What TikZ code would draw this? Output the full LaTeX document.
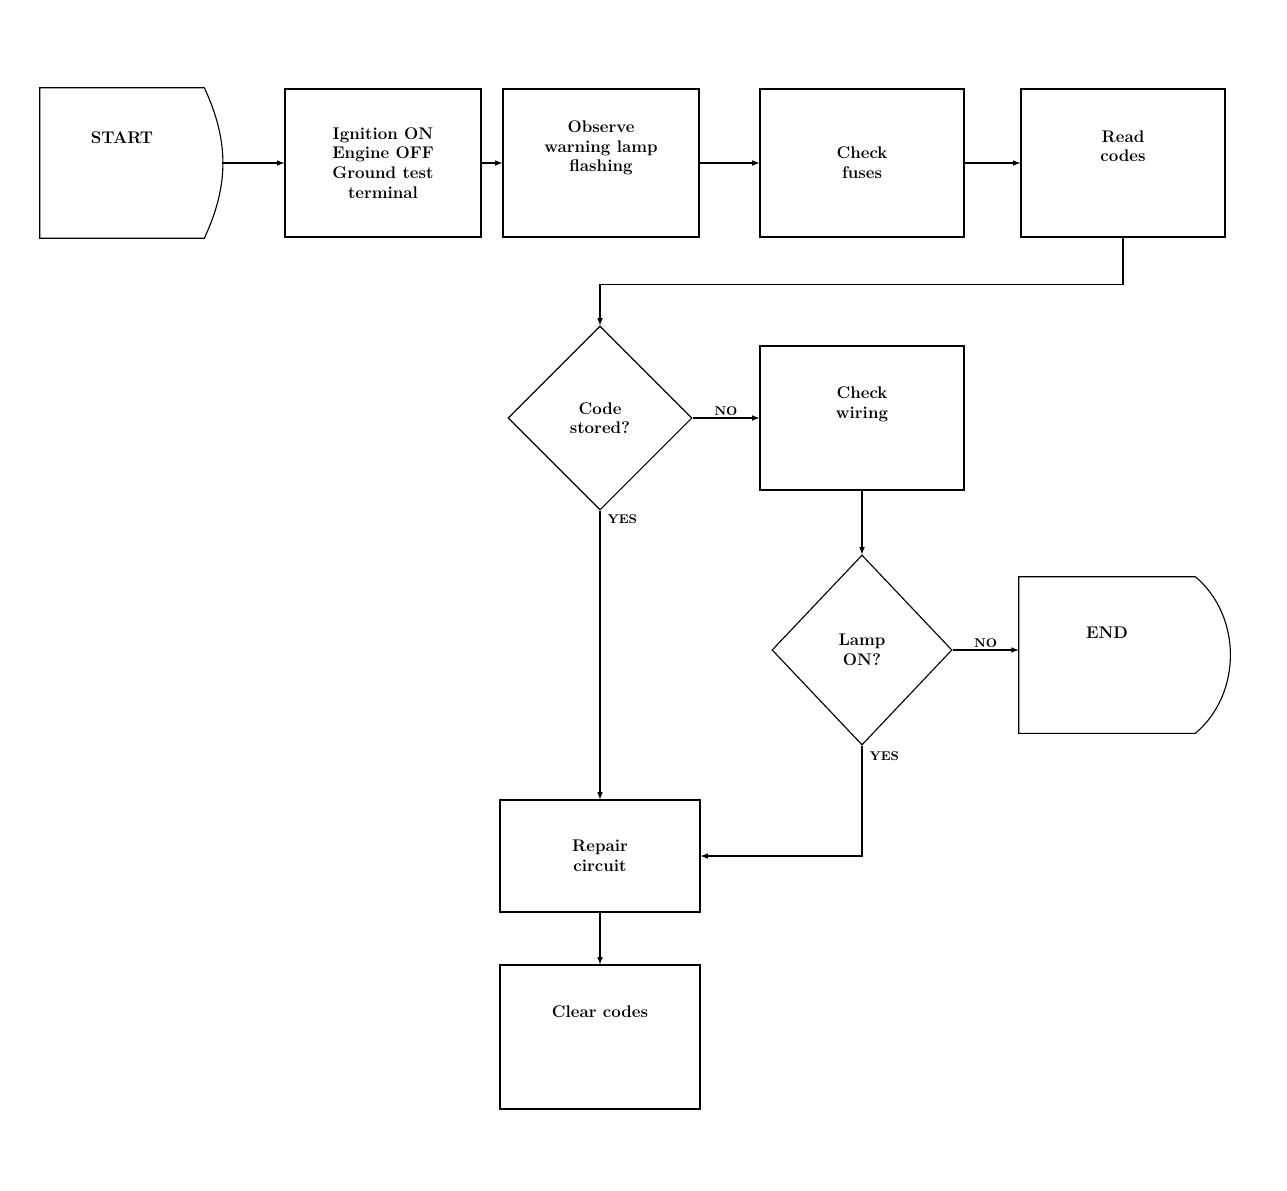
\documentclass[tikz,border=0pt]{standalone}
\usepackage{tikz}
\usetikzlibrary{shapes.geometric,arrows,positioning}
\tikzset
{
	stepbox/.style  = {rectangle, draw=black, thick, align=center, font=\large\bfseries, minimum width=4.9cm, minimum height=3.7cm},
	decision/.style = {diamond, draw=black, thick, align=center, aspect=1, inner sep=0pt, font=\large\bfseries, minimum width=4.6cm, minimum height=4.6cm},
	terminal/.style = {rectangle, align=center, font=\large\bfseries, minimum width=4.1cm, minimum height=3.75cm},
	outline/.style  = {draw=black, thick},
	answer/.style   = {font=\small\bfseries, inner sep=1pt}
}
% outline of a terminal node: straight left side, bowed right side
\newcommand{\termoutline}[2]{(#1.north west) -- (#1.north east) to[bend left=#2] (#1.south east) -- (#1.south west) -- cycle}

\begin{document}
\begin{tikzpicture}[x=0.025cm, y=-0.025cm, >=latex]
\useasboundingbox (0,0) rectangle (1287,1190);
% top row
\node[terminal] (start) at (122,163) {START\\[22pt]};
\node[stepbox] (ign) at (383,163) {Ignition ON\\Engine OFF\\Ground test\\terminal};
\node[stepbox] (lamp) at (601,163) {Observe\\warning lamp\\flashing\\[10pt]};
\node[stepbox, minimum width=5.1cm] (fuse) at (862,163) {Check\\fuses};
\node[stepbox, minimum width=5.1cm] (codes) at (1123,163) {Read\\codes\\[10pt]};
% middle
\node[decision] (stored) at (600,418) {Code\\stored?};
\node[stepbox, minimum width=5.1cm, minimum height=3.6cm] (wiring) at (862,418) {Check\\wiring\\[8pt]};
\node[decision, minimum width=4.5cm, minimum height=4.75cm] (lampon) at (862,650) {Lamp\\ON?};
\node[terminal, minimum width=4.4cm, minimum height=3.9cm] (done) at (1107,655) {END\\[18pt]};
\draw[outline] \termoutline{start}{25};
\draw[outline] \termoutline{done}{50};
% bottom
\node[stepbox, minimum width=5cm, minimum height=2.8cm] (repair) at (600,856) {Repair\\circuit};
\node[stepbox, minimum width=5cm, minimum height=3.6cm] (clear) at (600,1037) {Clear codes\\[22pt]};

\draw[thick,->] ([xshift=0.45cm]start.east) -- (ign);
\draw[thick,->] (ign) -- (lamp);
\draw[thick,->] (lamp) -- (fuse);
\draw[thick,->] (fuse) -- (codes);
\draw[thick,->] (codes.south) -- ++(0,47) -| (stored.north);
\draw[thick,->] (stored) -- node[answer, above] {NO} (wiring);
\draw[thick,->] (stored.south) -- node[answer, pos=0.03, right=4pt] {YES} (repair.north);
\draw[thick,->] (wiring) -- (lampon);
\draw[thick,->] (lampon) -- node[answer, above] {NO} (lampon -| done.west);
\draw[thick,->] (lampon.south) |- node[answer, pos=0.05, right=4pt] {YES} (repair.east);
\draw[thick,->] (repair) -- (clear);
\end{tikzpicture}
\end{document}
